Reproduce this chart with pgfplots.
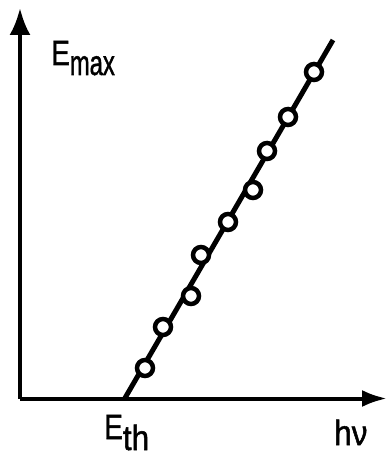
\documentclass[border=0pt]{standalone}
\usepackage{pgfplots}
\pgfplotsset{compat=1.18}
\usepackage{fontspec}
\setmainfont{Liberation Sans}[FakeBold=1.5]
\usetikzlibrary{arrows.meta}
\usepackage{graphicx}
\begin{document}
\begin{tikzpicture}
\begin{axis}[
  scale only axis,
  width=367pt, height=390.5pt,
  xmin=20, xmax=387, ymin=58.5, ymax=449,
  axis lines=left,
  xtick=\empty, ytick=\empty,
  clip=false,
  axis line style={line width=4pt},
  x axis line style={-{Latex[length=25pt,width=17pt]}},
  y axis line style={-{Latex[length=27pt,width=21pt]}},
]
\path (axis cs:0,0) -- (axis cs:387,457);
\addplot[line width=5pt, black] coordinates {(125,59) (333,417)};
\addplot[only marks, mark=*, mark size=8pt, mark options={line width=4.5pt, draw=black, fill=white}] coordinates {
(145,89) (163,130) (191,161) (201,202) (228,235) (253,267) (267,306) (288,340) (314,385)};
\node[anchor=base west, inner sep=0pt, font=\fontsize{35}{40}\selectfont] at (axis cs:51,392) {\scalebox{0.8}[1]{E}\raisebox{-10pt}{\scalebox{0.68}[1]{max}}};
\node[anchor=base west, inner sep=0pt, font=\fontsize{35}{40}\selectfont] at (axis cs:104,18) {\scalebox{0.8}[1]{E}\raisebox{-11pt}{\scalebox{0.9}[1]{th}}};
\node[anchor=base west, inner sep=0pt, font=\fontsize{35}{40}\selectfont] at (axis cs:334,12) {\scalebox{0.9}[1]{hν}};
\end{axis}
\end{tikzpicture}
\end{document}
